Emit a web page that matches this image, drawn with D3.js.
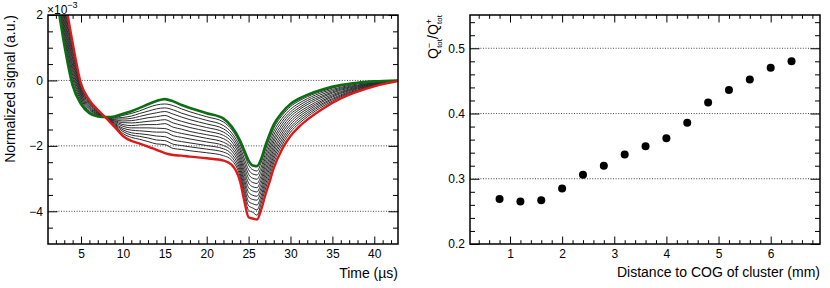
<!DOCTYPE html>
<html><head><meta charset="utf-8">
<script src="https://cdn.jsdelivr.net/npm/d3@7"></script>
<style>
html,body{margin:0;padding:0;background:#fff;}
svg{display:block;font-family:"Liberation Sans",Arial,Helvetica,sans-serif;}
</style>
</head><body>
<svg id="c" width="830" height="288"></svg>
<script>
// ---------- Left panel data (signal ×10^-3 vs time in µs) ----------
const timeUs = [2,3,4,5,6,7,8,9,10,11,12,13,14,15,16,17,18,20,22,23,24,24.5,25,25.5,26,26.5,27,27.5,28,29,30,31,32,34,36,38,40,42.8];
const greenCurve = [2.70,1.10,-0.15,-0.72,-1.00,-1.10,-1.12,-1.10,-1.02,-0.94,-0.84,-0.73,-0.63,-0.57,-0.64,-0.75,-0.84,-1.00,-1.17,-1.42,-1.85,-2.15,-2.45,-2.60,-2.62,-2.40,-2.00,-1.65,-1.35,-0.98,-0.72,-0.56,-0.44,-0.26,-0.14,-0.07,-0.03,0.00];
const redCurve   = [4.00,2.60,1.15,-0.10,-0.60,-0.90,-1.15,-1.42,-1.70,-1.85,-1.93,-2.02,-2.12,-2.22,-2.28,-2.30,-2.33,-2.38,-2.45,-2.58,-3.10,-3.70,-4.18,-4.22,-4.25,-3.95,-3.50,-3.10,-2.68,-2.10,-1.70,-1.42,-1.20,-0.84,-0.55,-0.34,-0.18,-0.02];
const black1  = [2.80,1.22,-0.05,-0.67,-0.97,-1.08,-1.12,-1.13,-1.07,-1.01,-0.93,-0.83,-0.75,-0.72,-0.77,-0.87,-0.96,-1.11,-1.27,-1.51,-1.95,-2.27,-2.59,-2.73,-2.77,-2.52,-2.12,-1.77,-1.46,-1.07,-0.80,-0.63,-0.50,-0.31,-0.17,-0.09,-0.04,0.00];
const black2  = [2.91,1.34,0.06,-0.62,-0.94,-1.07,-1.12,-1.15,-1.13,-1.09,-1.01,-0.94,-0.87,-0.84,-0.90,-1.00,-1.08,-1.22,-1.38,-1.61,-2.05,-2.40,-2.73,-2.86,-2.89,-2.65,-2.24,-1.88,-1.56,-1.16,-0.88,-0.70,-0.56,-0.35,-0.21,-0.11,-0.05,0.00];
const black3  = [3.01,1.46,0.16,-0.57,-0.90,-1.05,-1.13,-1.18,-1.18,-1.16,-1.10,-1.04,-0.99,-0.95,-1.03,-1.12,-1.20,-1.33,-1.48,-1.70,-2.15,-2.52,-2.87,-2.99,-3.02,-2.77,-2.36,-2.00,-1.67,-1.25,-0.96,-0.77,-0.62,-0.40,-0.24,-0.14,-0.07,0.00];
const black4  = [3.12,1.58,0.27,-0.52,-0.87,-1.04,-1.13,-1.20,-1.24,-1.23,-1.19,-1.14,-1.11,-1.07,-1.17,-1.25,-1.32,-1.44,-1.58,-1.79,-2.25,-2.65,-3.00,-3.12,-3.15,-2.90,-2.48,-2.11,-1.78,-1.34,-1.03,-0.84,-0.68,-0.45,-0.27,-0.16,-0.08,-0.01];
const black5  = [3.22,1.70,0.37,-0.47,-0.84,-1.02,-1.13,-1.23,-1.29,-1.30,-1.28,-1.25,-1.23,-1.20,-1.30,-1.37,-1.44,-1.55,-1.68,-1.88,-2.35,-2.77,-3.14,-3.25,-3.28,-3.02,-2.60,-2.23,-1.88,-1.43,-1.11,-0.90,-0.74,-0.49,-0.30,-0.18,-0.09,-0.01];
const black6  = [3.32,1.82,0.47,-0.42,-0.81,-1.00,-1.13,-1.25,-1.35,-1.38,-1.36,-1.35,-1.35,-1.32,-1.43,-1.49,-1.56,-1.66,-1.78,-1.98,-2.45,-2.89,-3.28,-3.38,-3.41,-3.14,-2.72,-2.35,-1.99,-1.52,-1.19,-0.97,-0.81,-0.54,-0.34,-0.20,-0.10,-0.01];
const black7  = [3.43,1.94,0.58,-0.37,-0.78,-0.99,-1.14,-1.28,-1.40,-1.45,-1.45,-1.45,-1.46,-1.47,-1.56,-1.62,-1.67,-1.77,-1.89,-2.07,-2.55,-3.02,-3.42,-3.51,-3.54,-3.27,-2.84,-2.46,-2.10,-1.61,-1.27,-1.04,-0.87,-0.59,-0.37,-0.22,-0.11,-0.01];
const black8  = [3.53,2.06,0.68,-0.32,-0.74,-0.97,-1.14,-1.31,-1.46,-1.52,-1.54,-1.56,-1.58,-1.58,-1.69,-1.74,-1.79,-1.88,-1.99,-2.16,-2.65,-3.14,-3.56,-3.64,-3.66,-3.39,-2.96,-2.58,-2.20,-1.70,-1.35,-1.11,-0.93,-0.63,-0.40,-0.24,-0.13,-0.01];
const black9  = [3.64,2.18,0.79,-0.27,-0.71,-0.96,-1.14,-1.33,-1.51,-1.60,-1.63,-1.66,-1.70,-1.72,-1.82,-1.87,-1.91,-1.99,-2.09,-2.26,-2.75,-3.27,-3.70,-3.77,-3.81,-3.52,-3.08,-2.69,-2.31,-1.79,-1.43,-1.18,-0.99,-0.68,-0.44,-0.26,-0.14,-0.01];
const black10 = [3.74,2.30,0.89,-0.22,-0.68,-0.94,-1.14,-1.36,-1.56,-1.67,-1.71,-1.76,-1.82,-1.84,-1.95,-1.99,-2.03,-2.10,-2.19,-2.35,-2.85,-3.39,-3.83,-3.90,-3.96,-3.64,-3.20,-2.81,-2.41,-1.88,-1.50,-1.25,-1.05,-0.72,-0.47,-0.29,-0.15,-0.02];
const black11 = [3.84,2.42,0.99,-0.17,-0.65,-0.92,-1.15,-1.38,-1.62,-1.74,-1.80,-1.87,-1.94,-1.96,-2.08,-2.11,-2.15,-2.21,-2.30,-2.44,-2.95,-3.51,-3.97,-4.03,-4.12,-3.76,-3.32,-2.93,-2.52,-1.97,-1.58,-1.32,-1.11,-0.77,-0.50,-0.31,-0.16,-0.02];
const blackCurves = [black1,black2,black3,black4,black5,black6,black7,black8,black9,black10,black11];
const leftXTicks = [5,10,15,20,25,30,35,40];
const leftYTicks = [-4,-2,0,2];
const leftGrid = [-4,-2,0];

// ---------- Right panel data ----------
const distanceMm = [0.8,1.2,1.6,2.0,2.4,2.8,3.2,3.6,4.0,4.4,4.8,5.2,5.6,6.0,6.4];
const chargeRatio = [0.269,0.265,0.267,0.285,0.306,0.320,0.337,0.350,0.362,0.386,0.417,0.436,0.452,0.470,0.480];
const rightXTicks = [1,2,3,4,5,6];
const rightYTicks = [0.2,0.3,0.4,0.5];
const rightGrid = [0.3,0.4,0.5];

const svg = d3.select("#c");
svg.append("rect").attr("width",830).attr("height",288).attr("fill","#fff");

function range(a,b,s){const r=[];for(let v=a;v<=b+1e-9;v+=s)r.push(+v.toFixed(4));return r;}

function panel(x, y, cfg){
  const [x0,x1] = x.range(), [y1,y0] = y.range();
  const g = svg.append("g");
  g.selectAll("line.grid").data(cfg.grid).join("line")
    .attr("x1",x0).attr("x2",x1).attr("y1",d=>y(d)).attr("y2",d=>y(d))
    .attr("stroke","#333").attr("stroke-width",0.9).attr("stroke-dasharray","1,1.6");
  const axes = g.append("g");
  const add = (gen, tr) => axes.append("g").attr("transform",tr).call(gen);
  add(d3.axisBottom(x).tickValues(cfg.xMinor).tickSize(-3.8).tickSizeOuter(0).tickFormat(""), `translate(0,${y1})`);
  add(d3.axisBottom(x).tickValues(cfg.xMajor).tickSize(-7.5).tickSizeOuter(0).tickPadding(5.5).tickFormat(cfg.xFmt), `translate(0,${y1})`);
  add(d3.axisTop(x).tickValues(cfg.xMinor).tickSize(-3.8).tickSizeOuter(0).tickFormat(""), `translate(0,${y0})`);
  add(d3.axisTop(x).tickValues(cfg.xMajor).tickSize(-7.5).tickSizeOuter(0).tickFormat(""), `translate(0,${y0})`);
  add(d3.axisLeft(y).tickValues(cfg.yMinor).tickSize(-5).tickSizeOuter(0).tickFormat(""), `translate(${x0},0)`);
  add(d3.axisLeft(y).tickValues(cfg.yMajor).tickSize(-9.5).tickSizeOuter(0).tickPadding(5).tickFormat(cfg.yFmt), `translate(${x0},0)`);
  add(d3.axisRight(y).tickValues(cfg.yMinor).tickSize(-5).tickSizeOuter(0).tickFormat(""), `translate(${x1},0)`);
  add(d3.axisRight(y).tickValues(cfg.yMajor).tickSize(-9.5).tickSizeOuter(0).tickFormat(""), `translate(${x1},0)`);
  axes.selectAll(".domain").remove();
  axes.selectAll(".tick line").attr("stroke","#000").attr("stroke-width",1);
  axes.selectAll("text").attr("font-size",12).attr("fill","#000")
    .attr("font-family",'"Liberation Sans",Arial,Helvetica,sans-serif');
  return g;
}

// ---------- Left panel ----------
const xL = d3.scaleLinear().domain([1.06,42.83]).range([48,398]);
const yL = d3.scaleLinear().domain([-5,2]).range([244,15]);
panel(xL, yL, {
  grid: leftGrid, xMajor: leftXTicks, xMinor: range(2,42,1).filter(v=>v%5!==0),
  yMajor: leftYTicks, yMinor: range(-4.5,1.5,0.5).filter(v=>v%2!==0),
  xFmt: d3.format("d"), yFmt: d3.format("d")
});
svg.append("clipPath").attr("id","clipL").append("rect").attr("x",48).attr("y",15).attr("width",350).attr("height",229);
const curvesG = svg.append("g").attr("clip-path","url(#clipL)");
const line = d3.line().x((d,i)=>xL(timeUs[i])).y(d=>yL(d)).curve(d3.curveMonotoneX);
curvesG.selectAll("path.blk").data(blackCurves).join("path")
  .attr("d",line).attr("fill","none").attr("stroke","#2b2b2b").attr("stroke-width",1);
curvesG.append("path").attr("d",line(greenCurve)).attr("fill","none").attr("stroke","#0b6e12").attr("stroke-width",2.6);
curvesG.append("path").attr("d",line(redCurve)).attr("fill","none").attr("stroke","#dd1a1a").attr("stroke-width",2.4);
svg.append("rect").attr("x",48).attr("y",15).attr("width",350).attr("height",229)
  .attr("fill","none").attr("stroke","#000").attr("stroke-width",1.5);

const ex = svg.append("text").attr("x",47).attr("y",14).attr("font-size",12).attr("fill","#000");
ex.append("tspan").text("×10");
ex.append("tspan").attr("dy",-6).attr("font-size",9).text("−3");

svg.append("text").attr("transform","translate(15,15) rotate(-90)").attr("text-anchor","end")
  .attr("font-size",14).attr("fill","#000").text("Normalized signal (a.u.)");
svg.append("text").attr("x",398).attr("y",278).attr("text-anchor","end")
  .attr("font-size",14).attr("fill","#000").text("Time (µs)");

// ---------- Right panel ----------
const xR = d3.scaleLinear().domain([0.233,6.946]).range([470,820]);
const yR = d3.scaleLinear().domain([0.2,0.551]).range([244,15]);
panel(xR, yR, {
  grid: rightGrid, xMajor: rightXTicks, xMinor: range(0.4,6.8,0.2).filter(v=>Math.abs(v-Math.round(v))>1e-6),
  yMajor: rightYTicks, yMinor: range(0.22,0.54,0.02).filter(v=>Math.abs(v*10-Math.round(v*10))>1e-6),
  xFmt: d3.format("d"), yFmt: d3.format(".1f")
});
svg.append("g").selectAll("circle").data(distanceMm).join("circle")
  .attr("cx",d=>xR(d)).attr("cy",(d,i)=>yR(chargeRatio[i])).attr("r",4).attr("fill","#000");
svg.append("rect").attr("x",470).attr("y",15).attr("width",350).attr("height",229)
  .attr("fill","none").attr("stroke","#000").attr("stroke-width",1.5);

const yt = svg.append("text").attr("transform","translate(438,15) rotate(-90)").attr("text-anchor","end")
  .attr("font-size",14).attr("fill","#000");
yt.append("tspan").text("Q");
yt.append("tspan").attr("dy",-6).attr("font-size",9).text("−");
yt.append("tspan").attr("dx",-5).attr("dy",10).attr("font-size",8).text("tot");
yt.append("tspan").attr("dy",-4).text("/Q");
yt.append("tspan").attr("dy",-6).attr("font-size",9).text("+");
yt.append("tspan").attr("dx",-5).attr("dy",10).attr("font-size",8).text("tot");

svg.append("text").attr("x",820).attr("y",277).attr("text-anchor","end")
  .attr("font-size",14).attr("fill","#000").text("Distance to COG of cluster (mm)");
</script>
</body></html>
